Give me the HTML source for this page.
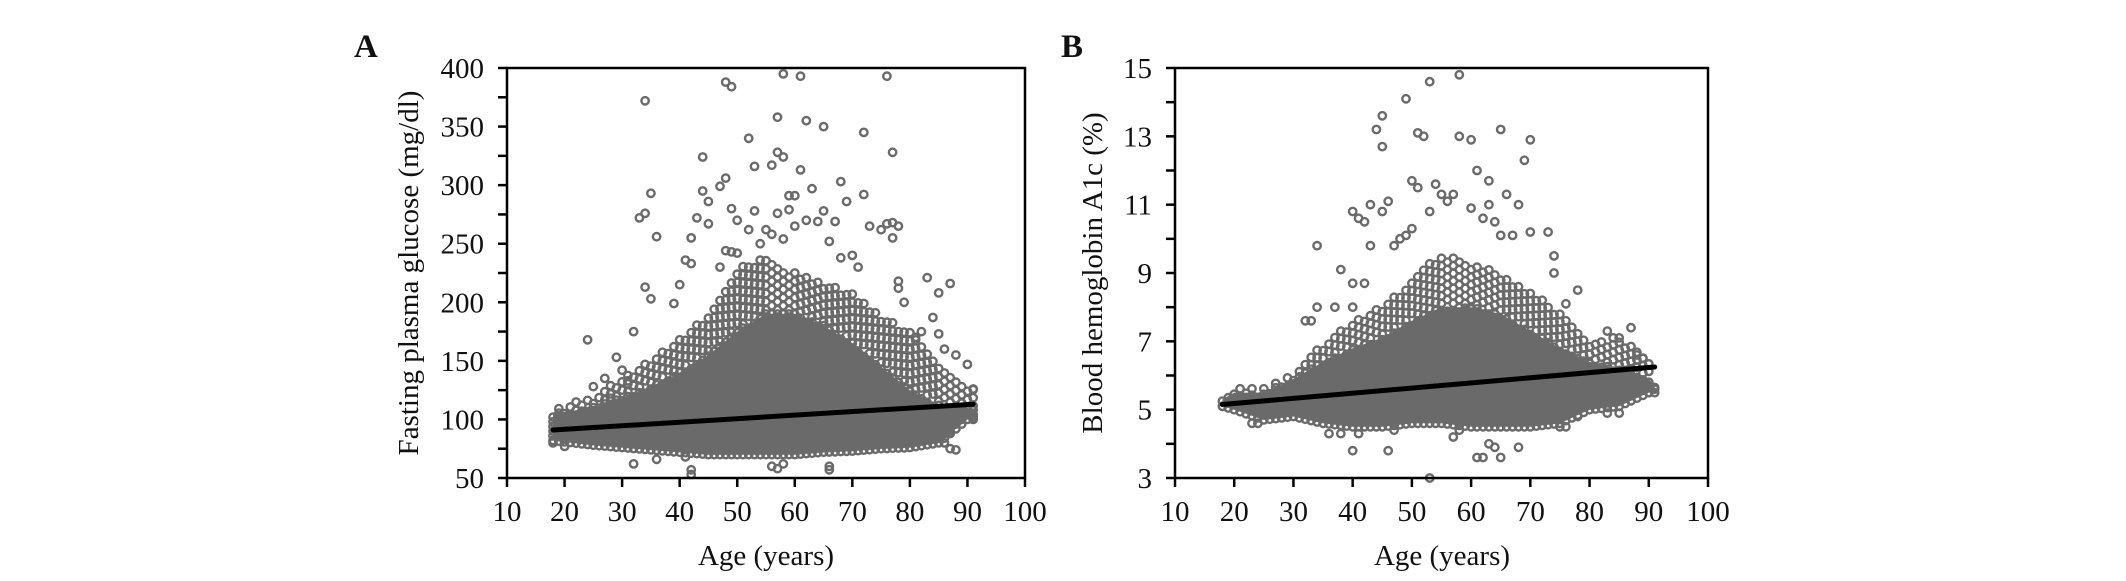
<!DOCTYPE html>
<html><head><meta charset="utf-8"><style>
body{margin:0;background:#fff}
svg{display:block}
text{font-family:"Liberation Serif",serif;fill:#111}
</style></head><body>
<svg id="fig" width="2126" height="581" viewBox="0 0 2126 581" xmlns="http://www.w3.org/2000/svg">
<rect width="2126" height="581" fill="#fff"/>
</svg>
<script>
// ---------- data: panel A ----------
const xTicks = [10,20,30,40,50,60,70,80,90,100];
const aYTicks = [50,100,150,200,250,300,350,400];
const aKnots = [18,25,30,35,40,45,50,55,60,65,70,75,80,85,90,91];
const aDenseLow = [82,78,76,74,72,70,70,70,70,72,73,75,76,80,100,100];
const aDenseHigh = [105,110,118,128,140,155,175,190,190,180,165,145,125,112,110,108];
const aSparseHigh = [110,120,135,150,170,190,230,240,225,215,210,190,175,150,130,126];
const aOutliers = [[34,372],[48,388],[49,384],[58,395],[61,393],[76,393],[57,358],[62,355],[65,350],[72,345],[52,340],[57,328],[58,324],[77,328],[44,324],[53,316],[56,317],[61,313],[48,306],[68,303],[47,299],[44,295],[35,293],[59,291],[60,291],[72,292],[63,297],[69,286],[45,286],[33,272],[34,276],[43,272],[49,280],[53,278],[57,276],[59,279],[65,278],[76,267],[77,268],[78,265],[67,269],[50,270],[36,256],[42,255],[52,262],[45,267],[73,265],[75,262],[77,255],[34,213],[35,203],[39,199],[24,168],[32,175],[40,215],[41,236],[42,233],[47,230],[48,244],[49,243],[50,242],[29,153],[83,221],[84,187],[85,208],[87,216],[82,175],[81,170],[85,173],[86,160],[88,155],[90,147],[91,126],[91,102],[89,103],[88,74],[87,75],[32,62],[42,57],[42,53],[57,58],[58,62],[56,60],[66,60],[66,57],[36,66],[41,68],[27,135],[30,142],[31,133],[87,90],[86,80],[70,240],[71,230],[68,238],[78,218],[79,200],[78,212],[66,252],[64,269],[62,270],[55,262],[56,258],[54,250],[58,254],[60,265],[25,128],[28,118],[20,77],[18,80]];
const aLine = [[18,91],[91,113]];
// ---------- data: panel B ----------
const bYTicks = [3,5,7,9,11,13,15];
const bKnots = [18,20,25,30,35,40,45,50,55,60,65,70,75,80,85,90,91];
const bDenseLow = [5.1,5.0,4.7,4.8,4.6,4.5,4.5,4.6,4.6,4.5,4.5,4.5,4.6,5.0,5.1,5.5,5.5];
const bDenseHigh = [5.3,5.5,5.5,5.9,6.4,6.8,7.1,7.6,8.0,8.0,7.8,7.3,6.8,6.4,6.2,5.9,5.7];
const bSparseHigh = [5.3,5.6,5.7,6.1,6.9,7.6,8.0,8.8,9.6,9.3,9.0,8.5,7.8,6.9,7.1,6.5,5.8];
const bOutliers = [[53,14.6],[58,14.8],[49,14.1],[45,13.6],[44,13.2],[45,12.7],[51,13.1],[52,13.0],[58,13.0],[60,12.9],[65,13.2],[70,12.9],[69,12.3],[61,12.0],[63,11.7],[50,11.7],[51,11.5],[54,11.6],[55,11.3],[56,11.1],[57,11.3],[53,10.8],[66,11.3],[68,11.0],[63,11.0],[43,11.0],[46,11.1],[45,10.8],[40,10.8],[41,10.6],[42,10.5],[50,10.3],[60,10.9],[62,10.6],[64,10.5],[65,10.1],[67,10.1],[70,10.2],[73,10.2],[34,9.8],[43,9.8],[47,9.8],[48,10.0],[49,10.1],[38,9.1],[40,8.7],[42,8.7],[37,8.0],[34,8.0],[40,8.0],[32,7.6],[33,7.6],[78,8.5],[76,8.1],[74,9.5],[74,9.0],[83,7.3],[84,7.1],[85,7.1],[87,7.4],[88,6.6],[89,6.5],[91,5.6],[90,5.5],[53,3.0],[61,3.6],[62,3.6],[65,3.6],[40,3.8],[46,3.8],[68,3.9],[63,4.0],[64,3.9],[57,4.2],[58,4.4],[36,4.3],[38,4.3],[41,4.3],[47,4.4],[23,4.6],[24,4.6],[78,4.8],[75,4.5],[76,4.5],[83,4.9],[85,4.9]];
const bLine = [[18,5.15],[91,6.25]];

const NS = "http://www.w3.org/2000/svg";
const svg = document.getElementById('fig');
function mk(tag, attrs, parent){ const e=document.createElementNS(NS,tag); for(const k in attrs) e.setAttribute(k,attrs[k]); (parent||svg).appendChild(e); return e; }
function interp(knots, vals, x){
  for(let i=0;i<knots.length-1;i++){ if(x>=knots[i]&&x<=knots[i+1]){ const t=(x-knots[i])/(knots[i+1]-knots[i]); return vals[i]+t*(vals[i+1]-vals[i]); } }
  return vals[vals.length-1];
}

function panel(cfg){
  const {L,R,T,B,ymin,ymax,yTicks,minorStep,knots,dLow,dHigh,sHigh,outliers,line,dStep,sStep,letter,letterX,yTitle,yTitleX,xTitleX,key} = cfg;
  const sx = v => L + (v-10)/90*(R-L);
  const sy = v => B - (v-ymin)/(ymax-ymin)*(B-T);
  const g = mk('g',{});
  
  
  let up=[], dn=[];
  for(let age=knots[0]; age<=knots[knots.length-1]; age++){
    up.push(sx(age).toFixed(1)+','+sy(interp(knots,dHigh,age)).toFixed(1));
    dn.unshift(sx(age).toFixed(1)+','+sy(interp(knots,dLow,age)).toFixed(1));
  }
  const core = mk('polygon',{points:up.concat(dn).join(' '),fill:'#6b6b6b'},g);
  
  
  const pts = mk('g',{fill:'none',stroke:'#6a6a6a','stroke-width':'2.4'},g);
  
  
  function dot(x,y){ mk('circle',{cx:sx(x).toFixed(1),cy:sy(y).toFixed(1),r:'3.7'},pts); }
  for(let age=knots[0]; age<=knots[knots.length-1]; age++){
    const lo=interp(knots,dLow,age), hi=interp(knots,dHigh,age), sh=interp(knots,sHigh,age);
    for(let v=lo; v<=hi; v+=dStep) dot(age,v);
    for(let v=hi+sStep*((age%2)?0.5:1); v<=sh; v+=sStep){ dot(age,v); }
  }
  outliers.forEach(p=>dot(p[0],p[1]));
  const ln = mk('line',{x1:sx(line[0][0]),y1:sy(line[0][1]),x2:sx(line[1][0]),y2:sy(line[1][1]),stroke:'#000','stroke-width':'5','stroke-linecap':'round'},g);
  
  
  const fr = mk('rect',{x:L,y:T,width:R-L,height:B-T,fill:'none',stroke:'#000','stroke-width':'2.5'},g);
  
  
  xTicks.forEach(t=>{
    mk('line',{x1:sx(t),y1:B,x2:sx(t),y2:B+9,stroke:'#000','stroke-width':'2.5'},g);
    const tx = mk('text',{x:sx(t),y:B+43,'font-size':'29','text-anchor':'middle'},g);
    tx.textContent=t;
    
    
  });
  for(let v=ymin; v<=ymax+1e-9; v+=minorStep){
    mk('line',{x1:L-9,y1:sy(v),x2:L,y2:sy(v),stroke:'#000','stroke-width':'2.5'},g);
  }
  yTicks.forEach(t=>{
    const tx = mk('text',{x:L-23,y:sy(t)+10,'font-size':'29','text-anchor':'end'},g);
    tx.textContent=t;
    
    
  });
  const lt = mk('text',{x:letterX,y:57,'font-size':'33','font-weight':'bold'},g);
  lt.textContent=letter;
  
  
  const cy=(T+B)/2;
  const yt = mk('text',{x:yTitleX,y:cy,'font-size':'29','text-anchor':'middle',transform:`rotate(-90 ${yTitleX} ${cy})`},g);
  yt.textContent=yTitle;
  
  
  const xt = mk('text',{x:xTitleX,y:565,'font-size':'29','text-anchor':'middle'},g);
  xt.textContent='Age (years)';
  
  
}

panel({key:'glucose',L:507,R:1025,T:68,B:478,ymin:50,ymax:400,yTicks:aYTicks,minorStep:25,knots:aKnots,dLow:aDenseLow,dHigh:aDenseHigh,sHigh:aSparseHigh,outliers:aOutliers,line:aLine,dStep:4,sStep:7,letter:'A',letterX:354,yTitle:'Fasting plasma glucose (mg/dl)',yTitleX:418,xTitleX:766});
panel({key:'hba1c',L:1175,R:1708,T:68,B:478,ymin:3,ymax:15,yTicks:bYTicks,minorStep:1,knots:bKnots,dLow:bDenseLow,dHigh:bDenseHigh,sHigh:bSparseHigh,outliers:bOutliers,line:bLine,dStep:0.15,sStep:0.22,letter:'B',letterX:1061,yTitle:'Blood hemoglobin A1c (%)',yTitleX:1102,xTitleX:1442});
</script>
</body></html>
